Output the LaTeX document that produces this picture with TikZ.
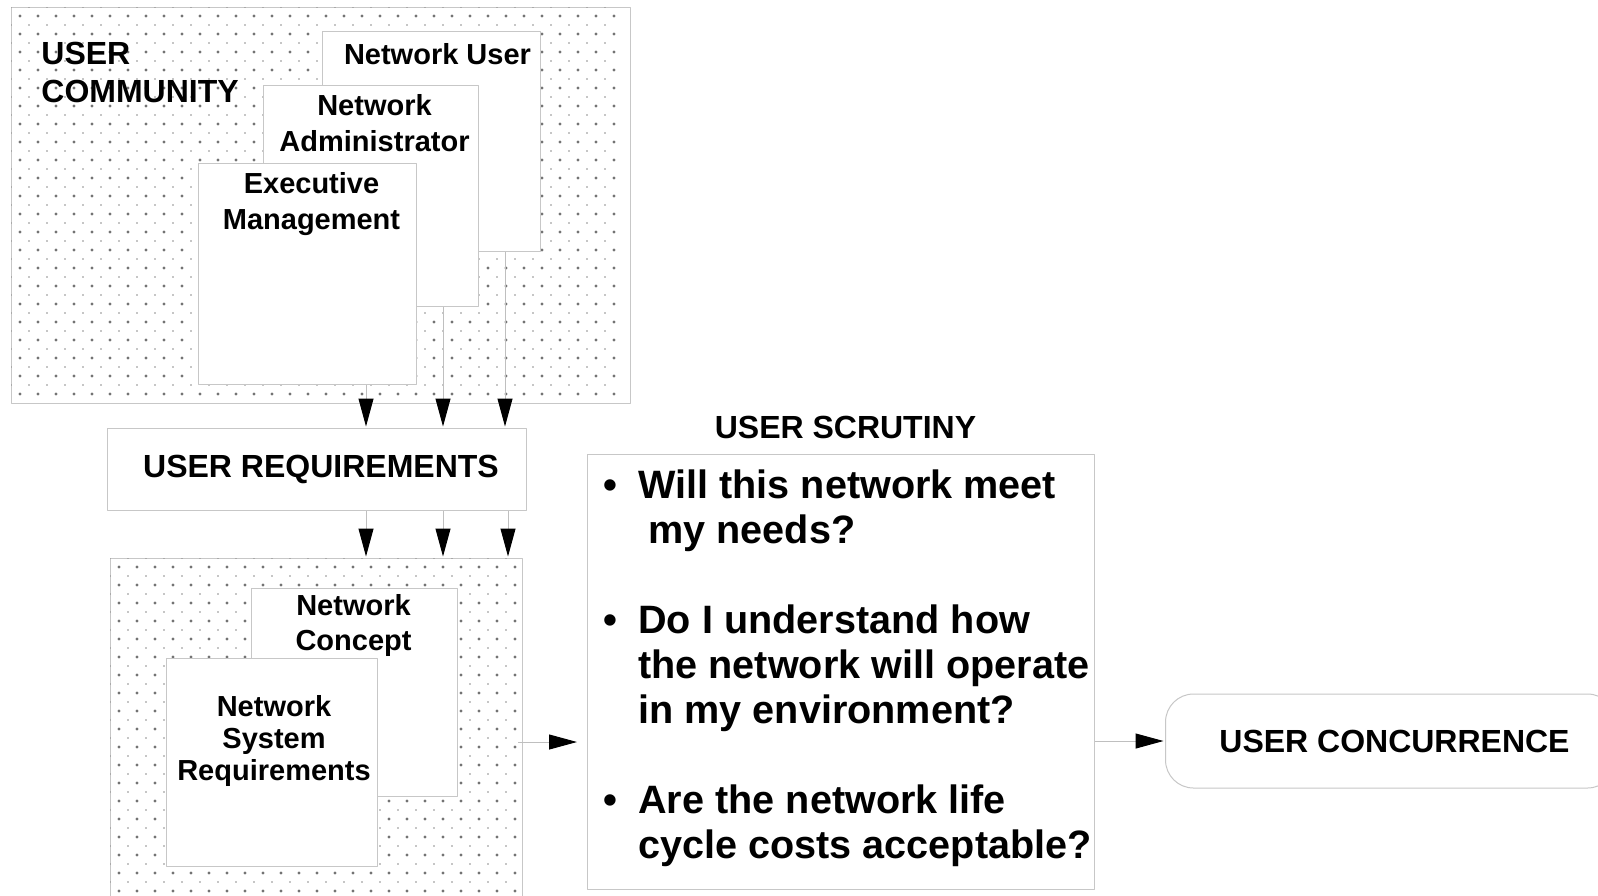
\documentclass[tikz,border=0pt]{standalone}
\usepackage{fontspec}
\setmainfont{Liberation Sans}
\usetikzlibrary{arrows.meta,positioning}

\newcommand{\stacklbl}[2][c]{\begin{tabular}[t]{@{}#1@{}}#2\end{tabular}}

\begin{document}
\begin{tikzpicture}[x=0.5pt, y=-0.5pt, line join=round, >={Triangle[length=14pt,width=7.5pt,color=black]}]

		\tikzset{box/.style={draw=black!22, fill=white, line width=0.5pt, inner sep=0pt},
			lbl/.style={font=\bfseries\fontsize{14.5pt}{18pt}\selectfont, inner sep=0pt},
			biglbl/.style={font=\bfseries\fontsize{16pt}{19pt}\selectfont, inner sep=0pt},
			qtext/.style={font=\bfseries\fontsize{19.8pt}{22.5pt}\selectfont, inner sep=0pt},
			flow/.style={->, draw=black!25, line width=0.5pt, shorten >=0.75pt}}

		\useasboundingbox (0,0) rectangle (1598,895);
		\clip (0,0) rectangle (1598,895);
		\fill[white] (0,0) rectangle (1598,895);

		% user community
		\node[box, anchor=north west, minimum width=309.5pt, minimum height=198pt] (ucom) at (11,7) {};
		\begin{scope}
		\clip (ucom.north west) rectangle (ucom.south east);
		\foreach \x in {20,38,...,620}
		\foreach \y in {16,34,...,400} {
			\fill[black!55] (\x,\y) circle (0.8pt);
			\fill[black!45] (\x-9,\y-9) circle (0.4pt);
		}
		\end{scope}
		\node[biglbl, anchor=base west] at ([xshift=15pt, yshift=-28.5pt]ucom.north west) {\stacklbl[l]{USER\\COMMUNITY}};

		\node[box, anchor=north west, minimum width=109pt, minimum height=110pt] (nuser) at (322,31) {};
		\node[lbl, anchor=base] at ([xshift=3pt, yshift=-16.5pt]nuser.north) {Network User};
		\node[box, anchor=north west, minimum width=107.5pt, minimum height=110.5pt] (nadm) at (263,85) {};
		\node[lbl, anchor=base] at ([xshift=1.75pt, yshift=-15pt]nadm.north) {\stacklbl{Network\\Administrator}};
		\node[box, anchor=north west, minimum width=109pt, minimum height=110.5pt] (exec) at (198,163) {};
		\node[lbl, anchor=base] at ([xshift=2pt, yshift=-15pt]exec.north) {\stacklbl{Executive\\Management}};

		% user requirements
		\node[box, anchor=north west, minimum width=209.5pt, minimum height=41pt] (ureq) at (107,428) {};
		\node[biglbl] at ([xshift=2pt]ureq.center) {USER REQUIREMENTS};

		% network concept
		\node[box, anchor=north west, minimum width=206pt, minimum height=175pt] (nbase) at (110,558) {};
		\begin{scope}
		\clip (nbase.north west) rectangle (nbase.south east);
		\foreach \x in {119,137,...,520}
		\foreach \y in {567,585,...,900} {
			\fill[black!55] (\x,\y) circle (0.8pt);
			\fill[black!45] (\x-9,\y-9) circle (0.4pt);
		}
		\end{scope}

		\node[box, anchor=north west, minimum width=103pt, minimum height=104pt] (ncon) at (251,588) {};
		\node[lbl, anchor=base, font=\bfseries\fontsize{14.5pt}{17.5pt}\selectfont] at ([xshift=-0.5pt, yshift=-13.5pt]ncon.north) {\stacklbl{Network\\Concept}};
		\node[box, anchor=north west, minimum width=105.5pt, minimum height=104pt] (nsys) at (166,658) {};
		\node[lbl, anchor=base, font=\bfseries\fontsize{14.5pt}{16pt}\selectfont] at ([xshift=1pt, yshift=-29pt]nsys.north) {\stacklbl{Network\\System\\Requirements}};

		% user scrutiny
		\node[box, anchor=north west, minimum width=253.5pt, minimum height=217.5pt] (scr) at (587,454) {};
		\node[biglbl, anchor=base] at ([xshift=2.25pt, yshift=8pt]scr.north) {USER SCRUTINY};
		\node[qtext, anchor=base west] (quest) at ([xshift=8pt, yshift=-22pt]scr.north west) {%
			\begin{tabular}[t]{@{}p{17.5pt}@{}l@{}}
			\textbullet & Will this network meet\\
			& \hspace{5pt}my needs?\\
			& \\
			\textbullet & Do I understand how\\
			& the network will operate\\
			& in my environment?\\
			& \\
			\textbullet & Are the network life\\
			& cycle costs acceptable?
			\end{tabular}};

		% user concurrence
		\node[box, rounded corners=14pt, anchor=west, minimum width=225pt, minimum height=47pt] (conc) at (1165,741) {};
		\node[biglbl] at ([xshift=2pt]conc.center) {USER CONCURRENCE};

		% connectors
		\coordinate (c1) at (366,0);
		\coordinate (c2) at (443,0);
		\coordinate (c3) at (505,0);
		\coordinate (c4) at (508,0);
		\coordinate (r1) at (0,742);
		\draw[flow] (exec.south -| c1) -- (ureq.north -| c1);
		\draw[flow] (nadm.south -| c2) -- (ureq.north -| c2);
		\draw[flow] (nuser.south -| c3) -- (ureq.north -| c3);
		\draw[flow] (ureq.south -| c1) -- (nbase.north -| c1);
		\draw[flow] (ureq.south -| c2) -- (nbase.north -| c2);
		\draw[flow] (ureq.south -| c4) -- (nbase.north -| c4);
		\draw[flow, shorten >=5pt] ([xshift=-2.5pt]nbase.east |- r1) -- (scr.west |- r1);
		\draw[flow] (scr.east |- conc.west) -- (conc.west);
		\end{tikzpicture}
\end{document}
